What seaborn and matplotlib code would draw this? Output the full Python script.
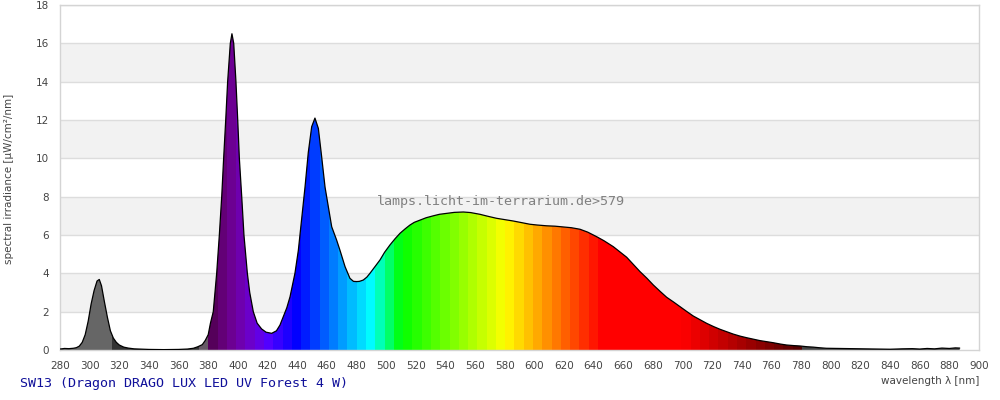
import numpy as np
import pandas as pd
import matplotlib
matplotlib.use("Agg")
import matplotlib.pyplot as plt
from matplotlib.patches import Polygon
import seaborn as sns

# ---- data ----
wavelength = [280, 283, 286, 289, 291, 293, 295, 297, 299, 301, 303, 305, 306.5, 308, 310, 312, 314, 316, 318, 320,
              323, 326, 330, 340, 350, 360, 366, 370, 373, 376, 378, 380, 381.5, 383.4, 385.7, 387.5, 389.1, 390.4,
              391.8, 393.1, 394.9, 396, 397.2, 398.7, 399.9, 401, 402.6, 404.1, 406.4, 408, 410.4, 413, 416, 419,
              422.8, 426, 428.4, 431, 433, 435.2, 438.5, 440.8, 443, 445.3, 447.5, 449.8, 452, 454.3, 456.5, 458.8,
              461, 463.3, 466.6, 468.9, 472.3, 475.6, 478, 480.2, 482, 484.6, 487, 489.1, 492, 495.9, 499, 502.6,
              506, 509.4, 513, 516.1, 519, 522.9, 527, 531.8, 536, 540.9, 546, 552.1, 557, 563.3, 569, 574.6, 580,
              585.8, 591, 597.1, 602, 608.3, 614, 619.6, 625, 630.8, 636, 642.1, 647, 653.3, 658, 662.3, 667, 671.3,
              676, 680.3, 685, 689.3, 694, 698.3, 703, 707.3, 712, 716.3, 721, 725.3, 730, 734.2, 739, 743.3, 748,
              752.2, 757, 761.2, 766, 770.2, 775, 779.2, 784, 788.2, 792, 797, 805, 812, 820, 830, 840, 848, 855,
              860, 865, 870, 875, 880, 884, 887]
irradiance = [0.05, 0.08, 0.07, 0.09, 0.12, 0.2, 0.4, 0.8, 1.5, 2.4, 3.1, 3.6, 3.68, 3.35, 2.5, 1.7, 1.0, 0.62, 0.4, 0.26,
              0.15, 0.1, 0.06, 0.03, 0.02, 0.03, 0.05, 0.09, 0.17, 0.28, 0.5, 0.8, 1.4, 2.0, 4.0, 6.0, 8.0, 10.0,
              12.0, 14.0, 16.0, 16.5, 16.0, 14.0, 12.0, 10.0, 8.0, 6.0, 4.0, 3.0, 2.0, 1.4, 1.1, 0.93,
              0.87, 1.0, 1.3, 1.8, 2.2, 2.78, 4.0, 5.2, 6.8, 8.5, 10.3, 11.65, 12.1, 11.56, 10.1, 8.5,
              7.5, 6.43, 5.74, 5.2, 4.35, 3.74, 3.58, 3.57, 3.58, 3.65, 3.8, 4.0, 4.3, 4.7, 5.1, 5.48,
              5.8, 6.09, 6.33, 6.52, 6.66, 6.78, 6.9, 7.0, 7.08, 7.13, 7.18, 7.2, 7.17, 7.08, 6.97, 6.87, 6.8,
              6.73, 6.65, 6.56, 6.52, 6.48, 6.46, 6.42, 6.38, 6.3, 6.15, 5.91, 5.7, 5.39, 5.1, 4.84, 4.45, 4.09,
              3.74, 3.39, 3.05, 2.75, 2.5, 2.26, 2.0, 1.77, 1.57, 1.39, 1.22, 1.08, 0.95, 0.83, 0.72, 0.64, 0.56,
              0.49, 0.43, 0.38, 0.31, 0.26, 0.23, 0.21, 0.17, 0.15, 0.12, 0.09, 0.08, 0.07, 0.06, 0.05, 0.04, 0.06, 0.07,
              0.05, 0.08, 0.06, 0.1, 0.08, 0.11, 0.1]
x_ticks = list(range(280, 901, 20))
y_ticks = list(range(0, 19, 2))
title = "SW13 (Dragon DRAGO LUX LED UV Forest 4 W)"
watermark = "lamps.licht-im-terrarium.de>579"
x_label = "wavelength λ [nm]"
y_label = "spectral irradiance [µW/cm²/nm]"

df = pd.DataFrame({"wavelength": wavelength, "irradiance": irradiance})


def wl_rgb(w):
    if w < 380:
        return (0.4, 0.4, 0.4)
    if w < 440:
        r, g, b = (440 - w) / 60, 0.0, 1.0
    elif w < 490:
        r, g, b = 0.0, (w - 440) / 50, 1.0
    elif w < 510:
        r, g, b = 0.0, 1.0, (510 - w) / 20
    elif w < 580:
        r, g, b = (w - 510) / 70, 1.0, 0.0
    elif w < 645:
        r, g, b = 1.0, (645 - w) / 65, 0.0
    else:
        r, g, b = 1.0, 0.0, 0.0
    if w < 420:
        f = 0.3 + 0.7 * (w - 380) / 40
    elif w > 700:
        f = 0.3 + 0.7 * (780 - w) / 80
    else:
        f = 1.0
    return (r * f, g * f, b * f)


# colour strip (one column per 0.25 nm)
xs = np.arange(280, 900, 0.25) + 0.125
cols = []
for w in xs:
    if w < 315:
        c = (0.4, 0.4, 0.4)
    elif w < 373.75:
        c = (0.2, 0.2, 0.2)
    elif w < 380:
        c = (0.40, 0.35, 0.40)
    elif w < 780:
        k = int((w - 380) // 6.25)
        c = wl_rgb(380 + 6.25 * k + 3.125)
    else:
        c = (0.27, 0.27, 0.27)
    cols.append(c)
strip = np.array(cols)[None, :, :]

sns.set_theme(style="white")
plt.rcParams["font.family"] = ["DejaVu Sans"]

fig = plt.figure(figsize=(10, 4), dpi=100)
ax = fig.add_axes([0.06, 0.125, 0.919, 0.8625])
ax.set_xlim(280, 900)
ax.set_ylim(0, 18)

# alternating background bands
for lo in range(2, 18, 4):
    ax.axhspan(lo, lo + 2, color="#f2f2f2", zorder=0, lw=0)
for yv in y_ticks[1:]:
    ax.axhline(yv, color="#dddddd", lw=1, zorder=0.5)

# coloured fill clipped by the spectrum
verts = [(wavelength[0], 0)] + list(zip(wavelength, irradiance)) + [(wavelength[-1], 0)]
clip = Polygon(verts, closed=True, transform=ax.transData, facecolor="none", edgecolor="none")
ax.add_patch(clip)
im = ax.imshow(strip, extent=[280, 900, 0, 18], aspect="auto", interpolation="nearest", zorder=1, origin="lower")
im.set_clip_path(clip)

sns.lineplot(data=df, x="wavelength", y="irradiance", color="black", lw=0.9, ax=ax, zorder=3,
             estimator=None, sort=False)

ax.set_xlim(280, 900)
ax.set_ylim(0, 18)
ax.set_xticks(x_ticks)
ax.set_yticks(y_ticks)
ax.tick_params(axis="both", length=0, labelsize=7.5, labelcolor="#444444")
ax.tick_params(axis="x", pad=8)
ax.tick_params(axis="y", pad=8)
ax.set_xlabel("")
ax.set_ylabel("")
for s in ax.spines.values():
    s.set_color("#d4d4d4")
    s.set_linewidth(1)

fig.text(0.009, 0.5525, y_label, rotation=90, ha="center", va="center", fontsize=7.5, color="#444444")
fig.text(0.979, 0.047, x_label, ha="right", va="center", fontsize=7.5, color="#444444")
fig.text(0.02, 0.04, title, ha="left", va="center", fontsize=9.6, color="#10109a", family="DejaVu Sans Mono")
fig.text(0.501, 0.4975, watermark, ha="center", va="center", fontsize=9.6, color="#808080",
         family="DejaVu Sans Mono", zorder=5)

fig.savefig("out.png", dpi=100)
